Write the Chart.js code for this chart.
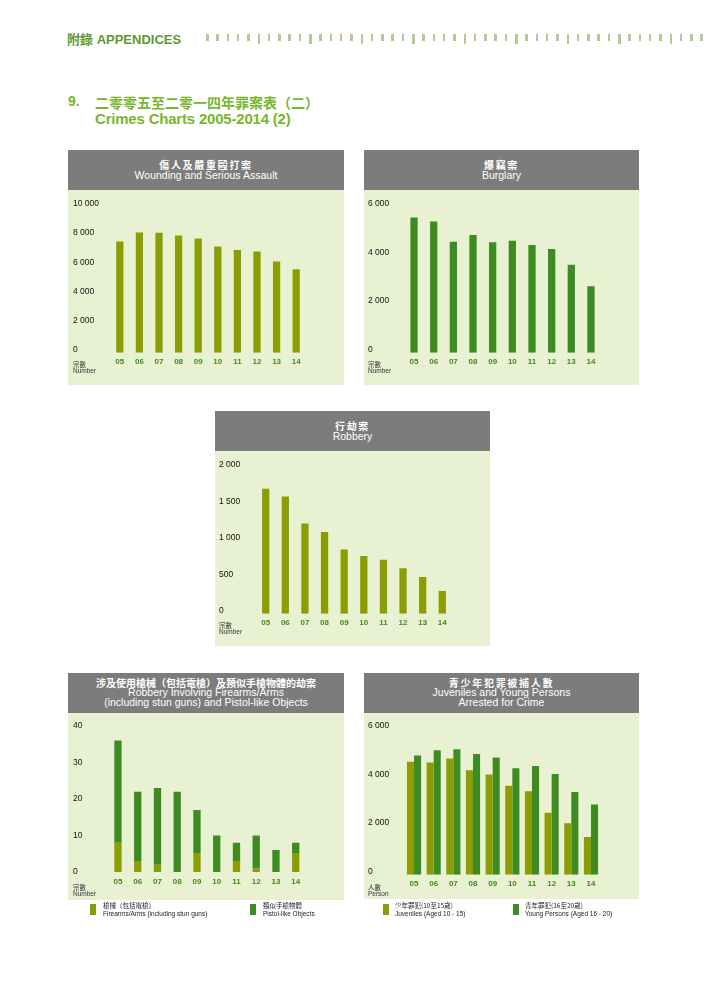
<!DOCTYPE html>
<html>
<head>
<meta charset="utf-8">
<script src="https://cdn.jsdelivr.net/npm/chart.js@4.4.0/dist/chart.umd.min.js"></script>
<style>
  body{margin:0;width:708px;height:1001px;background:#fff;position:relative;overflow:hidden;
       font-family:"Liberation Sans",Arial,"Noto Sans CJK TC",sans-serif;}
  .abs{position:absolute;white-space:nowrap}
  .panel{position:absolute;background:#e9f1d3}
  .head{position:absolute;left:0;top:0;right:0;height:40px;background:#7c7c7c;color:#fff;
        display:flex;flex-direction:column;justify-content:center;align-items:center;font-size:10.5px}
  .head .zh{font-family:"Noto Sans CJK TC",sans-serif;font-weight:bold;font-size:10px;letter-spacing:1.7px}
  .two div{line-height:11.5px}
  .three div{line-height:9.7px}
  .unit{position:absolute;font-size:6.5px;line-height:6.5px;color:#333}
  .unit .zh{font-family:"Noto Sans CJK TC",sans-serif}
  canvas{position:absolute}
  .lg{position:absolute;font-size:6.5px;line-height:7.5px;color:#222}
  .lg .zh{font-family:"Noto Sans CJK TC",sans-serif}
  .sw{position:absolute;width:6px;height:11px}
  .mark{position:absolute;top:34px;width:2.5px;height:7px;background:#b2cc98}
  .mark.tall{height:10px}
</style>
</head>
<body>
<div class="abs" style="left:67px;top:29px;font-size:13px;font-weight:bold;color:#5b9a31">
  <span style="font-family:'Noto Sans CJK TC',sans-serif">附錄</span> APPENDICES</div>
<div id="marks"></div>

<div class="abs" style="left:68px;top:93px;font-size:14px;font-weight:bold;color:#7ab52f">9.</div>
<div class="abs" style="left:95px;top:92px;font-size:14px;font-weight:bold;color:#7ab52f;font-family:'Noto Sans CJK TC',sans-serif">二零零五至二零一四年罪案表（二）</div>
<div class="abs" style="left:95px;top:110px;font-size:15px;font-weight:bold;color:#7ab52f;letter-spacing:-0.2px">Crimes Charts 2005-2014 (2)</div>

<div class="panel" style="left:68px;top:150px;width:276px;height:235px">
  <div class="head two"><div class="zh">傷人及嚴重毆打案</div><div>Wounding and Serious Assault</div></div>
</div>
<div class="panel" style="left:364px;top:150px;width:275px;height:235px">
  <div class="head two"><div class="zh">爆竊案</div><div>Burglary</div></div>
</div>
<div class="panel" style="left:215px;top:411px;width:275px;height:235px">
  <div class="head two"><div class="zh">行劫案</div><div>Robbery</div></div>
</div>
<div class="panel" style="left:68px;top:673px;width:276px;height:227px">
  <div class="head three"><div class="zh" style="letter-spacing:0px">涉及使用槍械（包括電槍）及類似手槍物體的劫案</div><div>Robbery Involving Firearms/Arms</div><div>(including stun guns) and Pistol-like Objects</div></div>
</div>
<div class="panel" style="left:364px;top:673px;width:275px;height:226px">
  <div class="head three"><div class="zh">青少年犯罪被捕人數</div><div>Juveniles and Young Persons</div><div>Arrested for Crime</div></div>
</div>

<canvas id="c1" width="276" height="195" style="left:68px;top:190px"></canvas>
<canvas id="c2" width="275" height="195" style="left:364px;top:190px"></canvas>
<canvas id="c3" width="275" height="195" style="left:215px;top:451px"></canvas>
<canvas id="c4" width="276" height="187" style="left:68px;top:713px"></canvas>
<canvas id="c5" width="275" height="186" style="left:364px;top:713px"></canvas>

<div class="unit" style="left:73px;top:361px"><div class="zh">宗數</div><div>Number</div></div>
<div class="unit" style="left:368px;top:361px"><div class="zh">宗數</div><div>Number</div></div>
<div class="unit" style="left:219px;top:622px"><div class="zh">宗數</div><div>Number</div></div>
<div class="unit" style="left:73px;top:884px"><div class="zh">宗數</div><div>Number</div></div>
<div class="unit" style="left:368px;top:884px"><div class="zh">人數</div><div>Person</div></div>

<div class="sw" style="left:90px;top:904px;background:#8b9d02"></div>
<div class="lg" style="left:103px;top:902px"><div class="zh">槍械（包括電槍）</div><div>Firearms/Arms (including stun guns)</div></div>
<div class="sw" style="left:250px;top:904px;background:#3e8b23"></div>
<div class="lg" style="left:263px;top:902px"><div class="zh">類似手槍物體</div><div>Pistol-like Objects</div></div>
<div class="sw" style="left:383px;top:904px;background:#8b9d02"></div>
<div class="lg" style="left:395px;top:902px"><div class="zh">少年罪犯(10至15歲)</div><div>Juveniles (Aged 10 - 15)</div></div>
<div class="sw" style="left:513px;top:904px;background:#3e8b23"></div>
<div class="lg" style="left:525px;top:902px"><div class="zh">青年罪犯(16至20歲)</div><div>Young Persons (Aged 16 - 20)</div></div>

<script>
// 年份 (x 軸)
const years = ['05','06','07','08','09','10','11','12','13','14'];

// 數值
const wounding     = [7430, 8050, 8020, 7840, 7630, 7090, 6840, 6740, 6060, 5530];
const burglary     = [5440, 5280, 4450, 4720, 4420, 4490, 4310, 4150, 3500, 2610];
const robbery      = [1671, 1566, 1196, 1078, 840, 749, 699, 580, 461, 269];
const firearms     = [8, 3, 2, 0, 5, 0, 3, 1, 0, 5];
const pistolLike   = [28, 19, 21, 22, 12, 10, 5, 9, 6, 3];
const juveniles    = [4530, 4500, 4660, 4180, 4000, 3540, 3310, 2430, 2000, 1430];
const youngPersons = [4790, 5000, 5040, 4850, 4700, 4260, 4350, 4020, 3280, 2770];

// y 軸刻度
const ticksWound   = [0, 2000, 4000, 6000, 8000, 10000];
const ticksBurg    = [0, 2000, 4000, 6000];
const ticksRob     = [0, 500, 1000, 1500, 2000];
const ticksArms    = [0, 10, 20, 30, 40];
const ticksYouth   = [0, 2000, 4000, 6000];

const OLIVE = '#8b9d02', GREEN = '#3e8b23';

// 頁首裝飾刻線
const marks = document.getElementById('marks');
for(let i=0, x=206; x<702; i++, x+=10.3){
  const m = document.createElement('div');
  m.className = 'mark' + (i%5===0 && i>0 ? ' tall':'');
  m.style.left = x.toFixed(1)+'px';
  marks.appendChild(m);
}

const fmt = v => String(v).replace(/\B(?=(\d{3})+(?!\d))/g, ' ');

// g: 頁面座標中的繪圖區位置
function barChart(id, g, datasets, ticks, opts={}){
  const cv = document.getElementById(id);
  const left = parseFloat(cv.style.left), top = parseFloat(cv.style.top);
  const W = cv.width, H = cv.height;
  const max = ticks[ticks.length-1];
  const scale = (g.yZero - g.yTop)/max;
  const drop = opts.drop ?? 3;
  const min = -drop/scale;
  const bottom = g.yZero + drop;
  if(!opts.stacked) datasets.forEach(d=> d.base = min);
  new Chart(cv, {
    type:'bar',
    data:{ labels: years, datasets },
    options:{
      responsive:false, animation:false,
      layout:{ padding:{ left: g.labelX-left, top: g.yTop-top, right: left+W-g.plotR, bottom:0 } },
      plugins:{ legend:{display:false}, tooltip:{enabled:false} },
      datasets:{ bar:{ categoryPercentage: opts.cat ?? 1, barPercentage: opts.bar ?? 0.37 } },
      scales:{
        x:{
          stacked: !!opts.stacked,
          grid:{display:false, drawTicks:false}, border:{display:false},
          ticks:{ color:'#428a1c', font:{size:8, family:'Liberation Sans', weight:'bold'}, padding:4, maxRotation:0, autoSkip:false },
          afterFit: a=>{ a.height = top+H-bottom; }
        },
        y:{
          stacked: !!opts.stacked,
          min, max,
          grid:{display:false, drawTicks:false}, border:{display:false},
          afterBuildTicks: a=>{ a.ticks = ticks.map(v=>({value:v})); },
          afterFit: a=>{ a.width = g.plotL-g.labelX; },
          ticks:{ crossAlign:'far', color:'#111', font:{size:8.5, family:'Liberation Sans'}, callback: v=> fmt(v) }
        }
      }
    }
  });
}

barChart('c1', {labelX:73, plotL:110, plotR:306, yTop:204, yZero:349.7},
  [{data:wounding, backgroundColor:OLIVE}], ticksWound);
barChart('c2', {labelX:368, plotL:404.2, plotR:600.8, yTop:204, yZero:349.7},
  [{data:burglary, backgroundColor:GREEN}], ticksBurg);
barChart('c3', {labelX:219, plotL:255.9, plotR:452.1, yTop:464.7, yZero:610.7},
  [{data:robbery, backgroundColor:OLIVE}], ticksRob);
barChart('c4', {labelX:73, plotL:108.1, plotR:305.6, yTop:726, yZero:872},
  [{data:firearms, backgroundColor:OLIVE}, {data:pistolLike, backgroundColor:GREEN}], ticksArms,
  {stacked:true, drop:1});
barChart('c5', {labelX:368, plotL:404.2, plotR:600.8, yTop:726, yZero:871.7},
  [{data:juveniles, backgroundColor:OLIVE}, {data:youngPersons, backgroundColor:GREEN}], ticksYouth,
  {cat:0.72, bar:1});
</script>
</body>
</html>
